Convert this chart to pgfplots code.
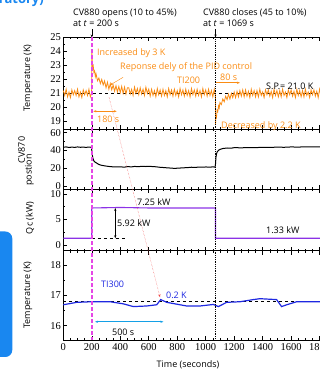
\documentclass[border=0pt]{standalone}
\usepackage{pgfplots}
\pgfplotsset{compat=1.18}
\usepackage{fontspec}
\setmainfont{Open Sans}
\newfontfamily\tickfont{Liberation Serif}
\usetikzlibrary{arrows.meta}
\definecolor{orng}{RGB}{250,140,20}
\definecolor{mag}{RGB}{230,70,230}
\definecolor{purp}{RGB}{140,50,230}
\definecolor{tblue}{RGB}{30,40,225}
\definecolor{lblue}{RGB}{20,160,230}
\definecolor{boxblue}{RGB}{25,135,240}
\definecolor{rd}{RGB}{240,70,70}
\pgfplotsset{
  panel/.style={scale only axis, width=284.8pt, xmin=0, xmax=2000, clip=false,
    anchor=north west, axis line style={line width=0.7pt},
    tick style={black, line width=0.5pt}, major tick length=4pt, minor tick length=2pt,
    xtick={0,200,...,2000}, minor x tick num=3, minor y tick num=1,
    ticklabel style={font=\tickfont\fontsize{10.5}{12}\selectfont},
    /pgf/number format/assume math mode=true,
    /pgf/number format/1000 sep={},
    yticklabel style={xshift=1pt}},
}
\newcommand{\ann}{\fontsize{9}{10}\selectfont}
\begin{document}
\begin{tikzpicture}[x=1pt,y=1pt]
\useasboundingbox (0,0) rectangle (320,375);
\clip (0,0) rectangle (320,375);
% cropped surroundings
\fill[boxblue, rounded corners=7pt] (-12,18) rectangle (12.3,143.5);
\node[anchor=base east, text=boxblue, font=\bfseries\fontsize{13}{14}\selectfont, inner sep=0pt] at (44,371) {Laboratory)};
% ---------- panel 1 ----------
\begin{axis}[panel, at={(63.3pt,337.5pt)}, height=91.8pt, ymin=18.43, ymax=25,
  ytick={19,20,...,25}, xticklabels={}]
\addplot[black, dashed, line width=0.6pt] coordinates {(0,21)(2000,21)};
\addplot[orng, line width=0.8pt] coordinates {
(0,21.2)(10,20.85)(20,21.3)(30,20.75)(40,21.1)(50,20.7)(60,21.25)(70,20.9)(80,21.2)(90,20.85)
(100,21.3)(110,20.75)(120,21.1)(130,20.7)(140,21.25)(150,20.9)(160,21.2)(170,20.85)(180,21.3)(190,20.75)(199,21.0)
(200,24.1)(203,23.4)(206,22.9)(210,23.0)(215,22.5)(220,22.6)(225,22.2)(230,22.4)(240,21.9)(250,22.1)
(260,21.7)(270,22.0)(280,21.6)(290,21.9)(300,21.4)(310,21.8)(320,21.3)(330,21.7)(340,21.25)(350,21.6)
(360,21.15)(370,21.55)(380,21.1)(390,21.5)(400,21.05)(410,21.5)(420,21.0)(430,21.45)(440,20.95)(450,21.4)
(460,21.4)(470,20.95)(480,21.3)(490,20.85)(500,21.45)(510,21.0)(520,21.35)(530,20.9)(540,21.4)(550,20.95)
(560,21.3)(570,20.85)(580,21.45)(590,21.0)(600,21.3)(610,20.8)(620,21.3)(630,20.85)(640,21.2)(650,20.75)
(660,21.35)(670,20.9)(680,21.25)(690,20.8)(700,21.3)(710,20.85)(720,21.2)(730,20.75)(740,21.35)(750,20.9)
(760,21.25)(770,20.8)(780,21.3)(790,20.85)(800,21.2)(810,20.75)(820,21.35)(830,20.9)(840,21.25)(850,20.8)
(860,21.3)(870,20.85)(880,21.2)(890,20.75)(900,21.35)(910,20.9)(920,21.25)(930,20.8)(940,21.3)(950,20.85)
(960,21.2)(970,20.75)(980,21.35)(990,20.9)(1000,21.25)(1010,20.8)(1020,21.3)(1030,20.85)(1040,21.2)(1050,20.75)
(1060,21.3)(1068,20.9)
(1069,18.8)(1072,19.4)(1076,19.3)(1080,19.8)(1085,19.7)(1090,20.1)(1095,19.95)(1100,20.35)(1110,20.2)(1120,20.6)
(1130,20.4)(1140,20.8)(1150,20.55)(1160,20.95)(1170,20.6)(1180,21.0)(1190,20.7)(1200,21.1)(1210,20.7)(1220,21.15)
(1230,20.75)(1240,21.2)(1250,20.8)(1260,21.25)(1270,20.75)
(1280,21.25)(1290,20.8)(1300,21.15)(1310,20.7)(1320,21.3)(1330,20.85)(1340,21.2)(1350,20.75)
(1360,21.2)(1370,20.75)(1380,21.3)(1390,20.85)(1400,21.1)(1410,20.7)(1420,21.25)(1430,20.9)
(1440,21.25)(1450,20.8)(1460,21.15)(1470,20.7)(1480,21.3)(1490,20.85)(1500,21.2)(1510,20.75)
(1520,21.2)(1530,20.75)(1540,21.3)(1550,20.85)(1560,21.1)(1570,20.7)(1580,21.25)(1590,20.9)
(1600,21.25)(1610,20.8)(1620,21.15)(1630,20.7)(1640,21.3)(1650,20.85)(1660,21.2)(1670,20.75)
(1680,21.2)(1690,20.75)(1700,21.3)(1710,20.85)(1720,21.1)(1730,20.7)(1740,21.25)(1750,20.9)
(1760,21.25)(1770,20.8)(1780,21.15)(1790,20.7)(1800,21.3)(1810,20.85)(1820,21.2)(1830,20.75)
(1840,21.2)(1850,20.75)(1860,21.3)(1870,20.85)(1880,21.1)(1890,20.7)(1900,21.25)(1910,20.9)
(1920,21.25)(1930,20.8)(1940,21.15)(1950,20.7)(1960,21.3)(1970,20.85)(1980,21.2)(1990,20.75)(2000,21.0)};
\coordinate (ttop1) at (axis cs:200,25);
\coordinate (ttop2) at (axis cs:1069,25);
\coordinate (redA) at (axis cs:321,20.73);
\draw[orng, line width=0.6pt, {Stealth[length=3pt]}-{Stealth[length=3pt]}] (axis cs:211,19.72) -- (axis cs:375,19.72);
\draw[orng, line width=0.6pt, -{Stealth[length=3pt]}] (axis cs:1075,21.76) -- (axis cs:1240,21.76);
\draw[orng, line width=0.4pt, -{Stealth[length=3pt]}] (axis cs:420,22.15) -- (axis cs:329,21.6);
\end{axis}
% ---------- panel 2 ----------
\begin{axis}[panel, at={(63.3pt,245.7pt)}, height=60pt, ymin=-4, ymax=63.7,
  ytick={0,20,40,60}, xticklabels={}]
\addplot[black, line width=1pt] coordinates {
(0,43.5)(20,43.8)(40,43.2)(60,43.6)(80,43.3)(100,43.8)(120,43.4)(140,43.6)(160,43.3)(180,43.7)(198,43.3)
(200,40)(203,36)(206,32)(210,30)(215,28)(220,27)(230,26)(240,25)(250,24)(270,23)(300,22.2)(330,21.6)
(360,21.2)(400,21.3)(430,21.0)(450,21.6)(480,21.3)(500,21.8)(530,21.5)(550,22.0)(580,21.7)(600,22.0)
(630,21.6)(650,21.4)(680,20.8)(700,20.6)(730,20.2)(750,20.0)(780,19.6)(800,19.8)(830,20.1)(850,20.3)
(880,20.6)(900,20.9)(930,20.7)(950,21.1)(980,20.9)(1000,21.2)(1030,21.0)(1050,21.3)(1066,21.0)
(1069,25)(1072,32)(1076,36)(1080,38)(1090,40)(1100,41)(1120,42)(1150,42.6)(1180,42.4)(1200,43)(1250,42.8)
(1300,43.1)(1350,43.0)(1400,43.4)(1450,43.2)(1500,43.6)(1550,43.4)(1600,43.8)(1650,43.6)(1700,44)(1750,43.8)
(1800,44)(1900,43.9)(2000,44)};
\end{axis}
% ---------- panel 3 ----------
\begin{axis}[panel, at={(63.3pt,185.7pt)}, height=61.4pt, ymin=-1.1, ymax=10.9,
  ytick={0,5,10}, xticklabels={}]
\addplot[purp, line width=1.1pt] coordinates {
(0,1.33)(199.5,1.33)(200,7.25)(300,7.3)(400,7.35)(500,7.3)(600,7.25)(1068.5,7.25)(1069,1.33)(2000,1.33)};
\draw[black, dashed, line width=0.6pt] (axis cs:200,1.33) -- (axis cs:434,1.33);
\draw[black, line width=0.5pt, {Stealth[length=3pt]}-{Stealth[length=3pt]}] (axis cs:365,1.33) -- (axis cs:365,7.25);
\end{axis}
% ---------- panel 4 ----------
\begin{axis}[panel, at={(63.3pt,124.3pt)}, height=89.3pt, ymin=15.53, ymax=18.47,
  ytick={16,17,18}]
\addplot[black, dashed, line width=0.6pt] coordinates {(0,16.8)(2000,16.8)};
\addplot[tblue, line width=1.2pt] coordinates {
(0,16.69)(94,16.77)(200,16.79)(328,16.79)(422,16.72)(492,16.63)(586,16.65)(656,16.69)(684,16.86)
(726,16.77)(866,16.65)(960,16.65)(1054,16.7)(1089,16.63)(1147,16.77)(1241,16.79)(1334,16.86)
(1381,16.89)(1498,16.86)(1533,16.63)(1569,16.69)(1639,16.79)(1803,16.79)(2000,16.8)};
\coordinate (tbot1) at (axis cs:200,15.53);
\coordinate (tbot2) at (axis cs:1069,15.53);
\coordinate (redB) at (axis cs:679,16.94);
\draw[lblue, line width=0.6pt, {Stealth[length=3pt]}-{Stealth[length=3pt]}] (axis cs:223,16.13) -- (axis cs:703,16.13);
\end{axis}
% vertical markers
\draw[mag, line width=1.5pt, dash pattern=on 4pt off 2pt] (ttop1) -- (tbot1);
\draw[black, densely dotted, line width=0.8pt] (ttop2) -- (tbot2);
\draw[rd, densely dotted, line width=0.4pt, -{Stealth[length=3pt]}] (redA) -- (redB);
\draw[black, line width=0.5pt, -{Stealth[length=3pt]}] (ttop1)++(0,8) -- (ttop1);
\draw[black, line width=0.5pt, -{Stealth[length=3pt]}] (ttop2)++(0,8) -- (ttop2);
% annotations
\begin{scope}[every node/.style={inner sep=0pt, font=\ann}]
\node[anchor=base west] at (73,359.5) {CV880 opens (10 to 45\%)};
\node[anchor=base west] at (73,348.5) {at \textit{t} = 200 s};
\node[anchor=base west] at (203,359.5) {CV880 closes (45 to 10\%)};
\node[anchor=base west] at (203,348.5) {at \textit{t} = 1069 s};
\node[anchor=base west, text=orng] at (97,319) {Increased by 3 K};
\node[anchor=base west, text=orng] at (120,305) {Reponse dely of the PID control};
\node[anchor=base west, text=orng] at (177,291) {TI200};
\node[anchor=base west, text=orng] at (220,294) {80 s};
\node[anchor=base west] at (266,285) {S.P.= 21.0 K};
\node[anchor=base west, text=orng] at (97,252) {180 s};
\node[anchor=base west, text=orng] at (221,246.5) {Decreased by 2.2 K};
\node[anchor=base west] at (137,169) {7.25 kW};
\node[anchor=base west] at (117,148) {5.92 kW};
\node[anchor=base west] at (266,141) {1.33 kW};
\node[anchor=base west, text=tblue] at (101,87) {TI300};
\node[anchor=base west, text=tblue] at (166,76) {0.2 K};
\node[anchor=base west] at (112,39) {500 s};
% axis labels
\node[rotate=90] at (28,297) {Temperature (K)};
\node[rotate=90] at (21.7,225) {CV870};
\node[rotate=90] at (29.5,205) {postion};
\node[rotate=90] at (30,157) {Qc (kW)};
\node[rotate=90] at (28,80) {Temperature (K)};
\node at (188,10) {Time (seconds)};
\end{scope}
\end{tikzpicture}
\end{document}
